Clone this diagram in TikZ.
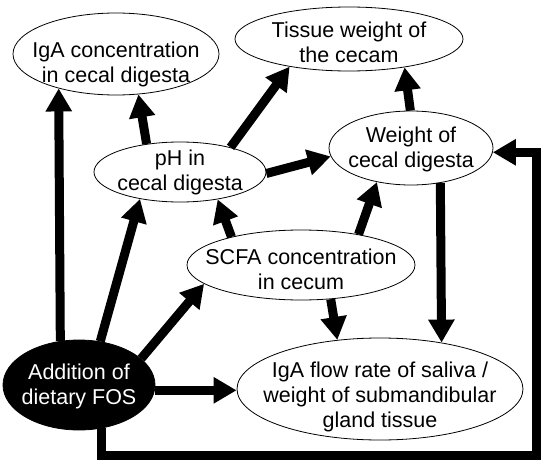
\documentclass[tikz,border=0pt]{standalone}
\usepackage{fontspec}
\setmainfont{Liberation Sans}
\usetikzlibrary{arrows.meta,shapes.geometric}
\tikzset{
  bubble/.style 2 args={ellipse, draw, line width=0.8pt, inner sep=0pt,
    minimum width=#1, minimum height=#2},
  txt/.style={align=center, font=\fontsize{21.5}{25}\selectfont},
  conn/.style={line width=9pt, -{Triangle[length=23pt,width=25pt]}},
}
\begin{document}
\begin{tikzpicture}[x=1pt,y=-1pt]
    		\useasboundingbox (0,0) rectangle (550,466);
    		%nodos
    		\node[bubble={206pt}{82pt}, label={[txt,yshift=-10pt]center:{IgA concentration\\in cecal digesta}}] (igac) at (116,54) {};
    		\node[bubble={228pt}{64pt}, label={[txt,yshift=-3pt]center:{Tissue weight of\\the cecam}}] (tissue) at (349,39) {};
    		\node[bubble={172pt}{60pt}, label={[txt]center:{pH in\\cecal digesta}}] (ph) at (180,172) {};
    		\node[bubble={164pt}{74pt}, label={[txt,yshift=-1pt]center:{Weight of\\cecal digesta}}] (wcd) at (411,148) {};
    		\node[bubble={228pt}{70pt}, label={[txt,yshift=-4pt]center:{SCFA concentration\\in cecum}}] (scfa) at (301,265) {};
    		\node[bubble={286pt}{102pt}, label={[txt,yshift=-8pt]center:{IgA flow rate of saliva /\\weight of submandibular\\gland tissue}}] (flow) at (380,389) {};
    		\node[bubble={152pt}{90pt}, fill=black, label={[txt,text=white,yshift=-1pt]center:{Addition of\\dietary FOS}}] (add) at (79,385) {};
    		\coordinate (loopSE) at (536,455);
  		%%%% FLECHAS
  		\draw [conn] (add.113.5) -- (igac.211.6);
  		\draw [conn] (add.64.1) -- (ph.214.4);
  		\draw [conn] (add.23.7) -- (scfa.191.1);
  		\draw [conn] (add.-4) -- (add.-4 -| flow.west);
  		\draw [conn] (add.-63) |- (loopSE) |- (wcd.-3);
  		\draw [conn] (ph.140) -- (igac.-61.2);
  		\draw [conn] (ph.26) -- (tissue.205.9);
  		\draw [conn] (ph.-1) -- (wcd.186.5);
  		\draw [conn] (scfa.158.9) -- (ph.-36.2);
  		\draw [conn] (scfa.28.6) -- (wcd.225.8);
  		\draw [conn] (scfa.-49.4) -- (flow.131.5);
  		\draw [conn] (wcd.-50) -- (flow.37.7);
  		\draw [conn] (wcd.91.5) -- (tissue.-27.6);
		\end{tikzpicture}
\end{document}
